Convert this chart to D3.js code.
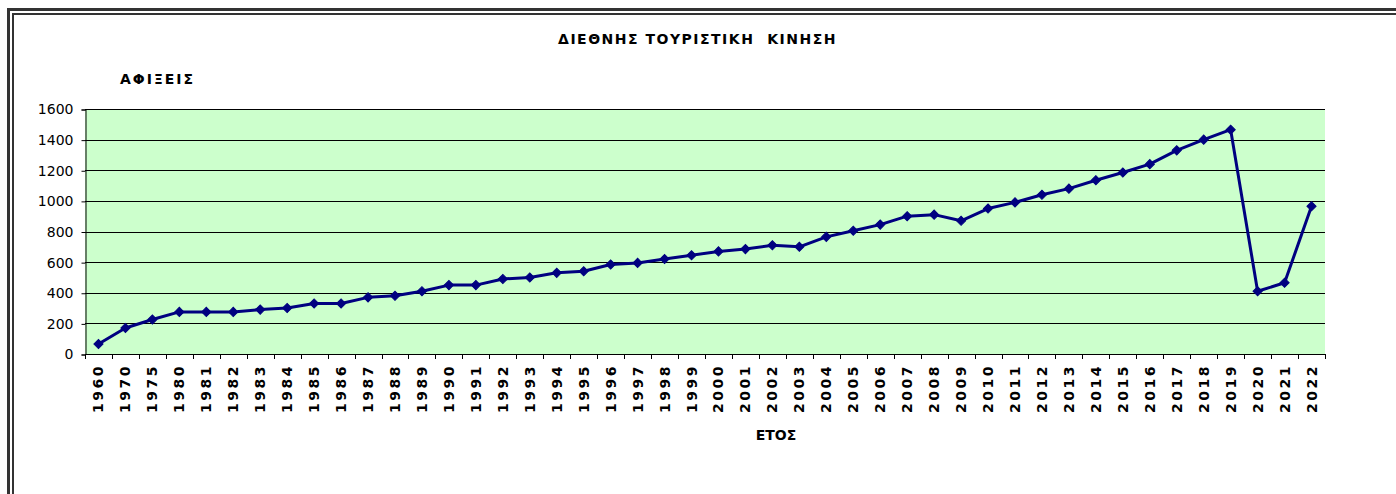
<!DOCTYPE html>
<html><head><meta charset="utf-8">
<script src="https://cdn.jsdelivr.net/npm/d3@7"></script>
<style>html,body{margin:0;padding:0;background:#fff;overflow:hidden}svg{display:block}</style>
</head><body>
<script>
const years = ["1960","1970","1975","1980","1981","1982","1983","1984","1985","1986","1987","1988","1989","1990","1991","1992","1993","1994","1995","1996","1997","1998","1999","2000","2001","2002","2003","2004","2005","2006","2007","2008","2009","2010","2011","2012","2013","2014","2015","2016","2017","2018","2019","2020","2021","2022"];
const arrivals = [65,170,225,275,275,275,290,300,330,330,370,380,410,450,450,490,500,530,540,585,595,620,645,670,685,710,700,765,805,845,900,910,870,950,990,1040,1080,1135,1185,1240,1330,1400,1465,410,465,965];
const yTicks = [0,200,400,600,800,1000,1200,1400,1600];
const titleText = "ΔΙΕΘΝΗΣ ΤΟΥΡΙΣΤΙΚΗ  ΚΙΝΗΣΗ";
const yTitle = "ΑΦΙΞΕΙΣ";
const xTitle = "ΕΤΟΣ";

const W = 1396, H = 494;
const plot = {l:85, r:1325, t:109, b:354};
const svg = d3.select("body").append("svg").attr("width",W).attr("height",H);

// frame (double border)
svg.append("rect").attr("x",8.5).attr("y",9.5).attr("width",3000).attr("height",3000)
  .attr("fill","none").attr("stroke","#333").attr("stroke-width",3);
svg.append("rect").attr("x",13).attr("y",14).attr("width",3000).attr("height",3000)
  .attr("fill","none").attr("stroke","#333").attr("stroke-width",2);

const x = d3.scaleBand().domain(years).range([plot.l, plot.r]).paddingInner(0).paddingOuter(0);
const y = d3.scaleLinear().domain([0,1600]).range([plot.b, plot.t]);

svg.append("rect").attr("x",plot.l).attr("y",plot.t).attr("width",plot.r-plot.l).attr("height",plot.b-plot.t).attr("fill","#CCFFCC");

// gridlines
svg.append("g").selectAll("line").data(yTicks.filter(d=>d>0)).join("line")
  .attr("x1",plot.l).attr("x2",plot.r)
  .attr("y1",d=>Math.round(y(d))+0.5).attr("y2",d=>Math.round(y(d))+0.5)
  .attr("stroke","#000").attr("stroke-width",1);

// y axis
const yAxis = d3.axisLeft(y).tickValues(yTicks).tickSize(4).tickPadding(8).tickFormat(d3.format("d"));
const gy = svg.append("g").attr("transform",`translate(${plot.l+0.5},0.5)`).call(yAxis);
gy.select(".domain").attr("stroke","#000");
gy.selectAll(".tick line").attr("stroke","#000");
gy.selectAll("text").attr("font-family","DejaVu Sans").attr("font-size",14).attr("fill","#000");

// x axis line and ticks at category boundaries
svg.append("line").attr("x1",plot.l).attr("x2",plot.r+0.5).attr("y1",plot.b+0.5).attr("y2",plot.b+0.5).attr("stroke","#000");
const bounds = years.map(d=>x(d)).concat([plot.r]);
svg.append("g").selectAll("line").data(bounds).join("line")
  .attr("x1",d=>Math.round(d)+0.5).attr("x2",d=>Math.round(d)+0.5)
  .attr("y1",plot.b).attr("y2",plot.b+5).attr("stroke","#000");

// x labels
svg.append("g").selectAll("text").data(years).join("text")
  .attr("transform",d=>`translate(${x(d)+x.bandwidth()/2+5},${plot.b+10}) rotate(-90)`)
  .attr("text-anchor","end")
  .attr("font-family","DejaVu Sans").attr("font-weight","bold").attr("font-size",14)
  .attr("letter-spacing","2.5px")
  .text(d=>d);

// line
const line = d3.line().x((d,i)=>x(years[i])+x.bandwidth()/2).y(d=>y(d));
svg.append("path").datum(arrivals).attr("d",line).attr("fill","none")
  .attr("stroke","#000080").attr("stroke-width",3).attr("stroke-linejoin","round");
const sym = d3.symbol().type(d3.symbolSquare).size(42);
svg.append("g").selectAll("path").data(arrivals).join("path")
  .attr("d",sym())
  .attr("transform",(d,i)=>`translate(${x(years[i])+x.bandwidth()/2},${y(d)}) rotate(45)`)
  .attr("fill","#000080").attr("stroke","#000080");

// titles
svg.append("text").attr("x",697.5).attr("y",44).attr("text-anchor","middle")
  .attr("font-family","DejaVu Sans").attr("font-weight","bold").attr("font-size",14)
  .attr("letter-spacing","1.5px").attr("xml:space","preserve").style("white-space","pre").text(titleText);
svg.append("text").attr("x",120).attr("y",83.5).attr("text-anchor","start")
  .attr("font-family","DejaVu Sans").attr("font-weight","bold").attr("font-size",14)
  .attr("letter-spacing","2px").text(yTitle);
svg.append("text").attr("x",776).attr("y",440).attr("text-anchor","middle")
  .attr("font-family","DejaVu Sans").attr("font-weight","bold").attr("font-size",14)
  .text(xTitle);
</script>
</body></html>
